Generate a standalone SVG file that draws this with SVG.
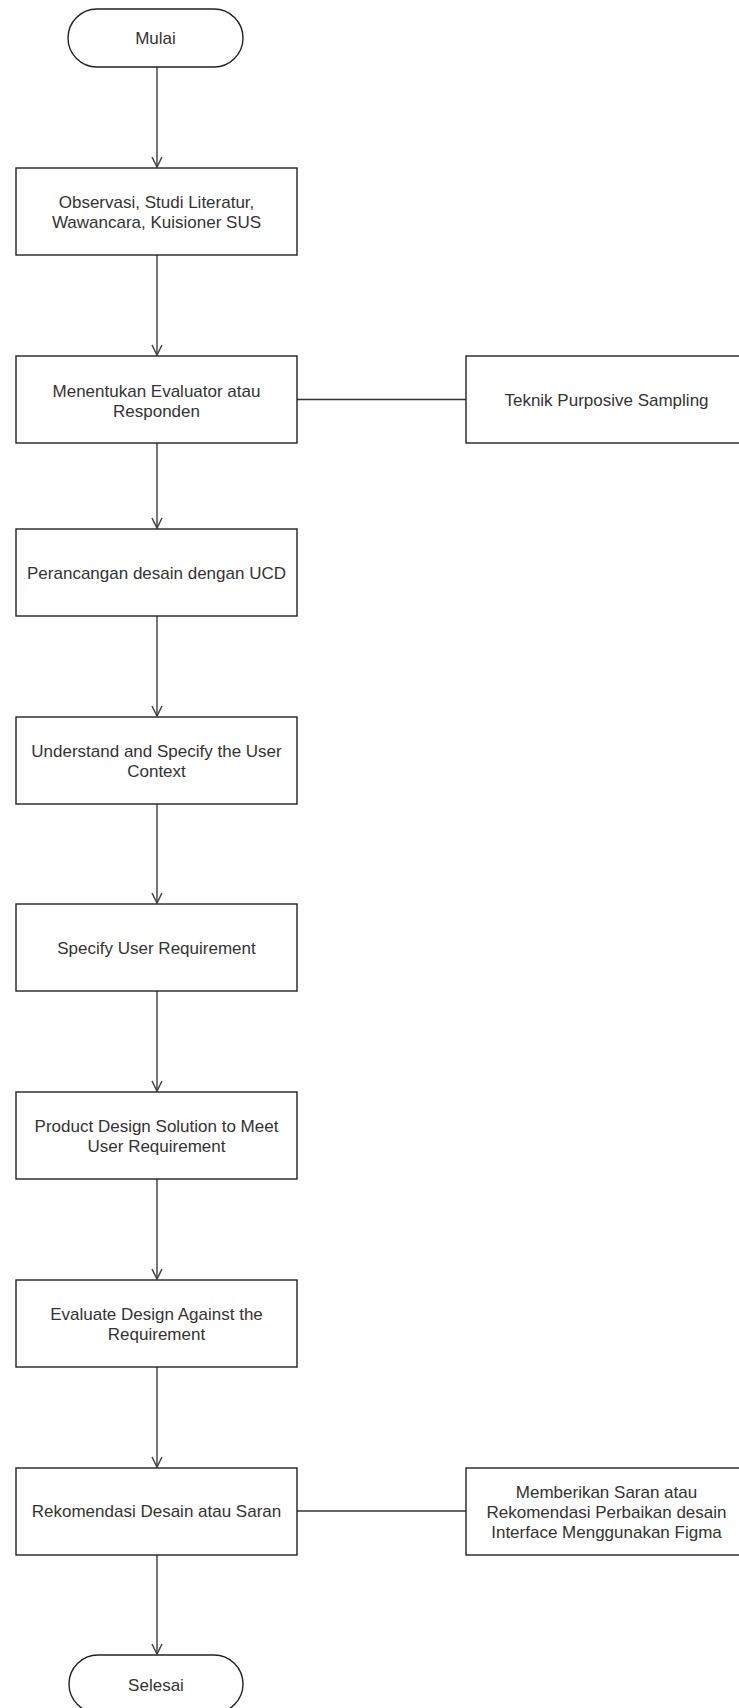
<svg xmlns="http://www.w3.org/2000/svg" width="739" height="1708" viewBox="0 0 739 1708">
<defs>
<style>
.box{fill:#fff;stroke:#222;stroke-width:1.4}
.t{font-family:"Liberation Sans",Arial,Helvetica,sans-serif;font-size:17px;fill:#333;text-anchor:middle}
.arr{fill:none;stroke:#555;stroke-width:1.6}
.link{fill:none;stroke:#333;stroke-width:1.5}
</style>
<marker id="open" markerUnits="userSpaceOnUse" markerWidth="14" markerHeight="14" viewBox="-12 -7 14 14" refX="0" refY="0" orient="auto">
<path d="M-10,-5 L0,0 L-10,5" fill="none" stroke="#444" stroke-width="1.5"/>
</marker>
</defs>
<rect width="739" height="1708" fill="#fff"/>
<g id="connectors">
<line class="arr" x1="157" y1="67" x2="157" y2="167" marker-end="url(#open)"/>
<line class="arr" x1="157" y1="255" x2="157" y2="355" marker-end="url(#open)"/>
<line class="arr" x1="157" y1="443" x2="157" y2="528" marker-end="url(#open)"/>
<line class="arr" x1="157" y1="616" x2="157" y2="716" marker-end="url(#open)"/>
<line class="arr" x1="157" y1="804" x2="157" y2="903" marker-end="url(#open)"/>
<line class="arr" x1="157" y1="991" x2="157" y2="1091" marker-end="url(#open)"/>
<line class="arr" x1="157" y1="1179" x2="157" y2="1279" marker-end="url(#open)"/>
<line class="arr" x1="157" y1="1366" x2="157" y2="1467" marker-end="url(#open)"/>
<line class="arr" x1="157" y1="1554" x2="157" y2="1654" marker-end="url(#open)"/>
<line class="link" x1="297" y1="399.5" x2="466" y2="399.5"/>
<line class="link" x1="297" y1="1511" x2="466" y2="1511"/>
</g>
<g id="mulai">
<rect class="box" x="68" y="9" width="175" height="58" rx="29" ry="29"/>
<text class="t" x="155.5" y="44">Mulai</text>
</g>
<g id="observasi">
<rect class="box" x="16" y="168" width="281" height="87"/>
<text class="t" x="156.5" y="208">Observasi, Studi Literatur,</text>
<text class="t" x="156.5" y="228">Wawancara, Kuisioner SUS</text>
</g>
<g id="menentukan">
<rect class="box" x="16" y="356" width="281" height="87"/>
<text class="t" x="156.5" y="396.5">Menentukan Evaluator atau</text>
<text class="t" x="156.5" y="416.5">Responden</text>
</g>
<g id="teknik">
<rect class="box" x="466" y="356" width="281" height="87"/>
<text class="t" x="606.5" y="405.5">Teknik Purposive Sampling</text>
</g>
<g id="perancangan">
<rect class="box" x="16" y="529" width="281" height="87"/>
<text class="t" x="156.5" y="578.5">Perancangan desain dengan UCD</text>
</g>
<g id="understand">
<rect class="box" x="16" y="717" width="281" height="87"/>
<text class="t" x="156.5" y="757">Understand and Specify the User</text>
<text class="t" x="156.5" y="777">Context</text>
</g>
<g id="specify">
<rect class="box" x="16" y="904" width="281" height="87"/>
<text class="t" x="156.5" y="953.5">Specify User Requirement</text>
</g>
<g id="product">
<rect class="box" x="16" y="1092" width="281" height="87"/>
<text class="t" x="156.5" y="1132">Product Design Solution to Meet</text>
<text class="t" x="156.5" y="1152">User Requirement</text>
</g>
<g id="evaluate">
<rect class="box" x="16" y="1280" width="281" height="87"/>
<text class="t" x="156.5" y="1320">Evaluate Design Against the</text>
<text class="t" x="156.5" y="1340">Requirement</text>
</g>
<g id="rekomendasi">
<rect class="box" x="16" y="1468" width="281" height="87"/>
<text class="t" x="156.5" y="1517">Rekomendasi Desain atau Saran</text>
</g>
<g id="memberikan">
<rect class="box" x="466" y="1468" width="281" height="87"/>
<text class="t" x="606.5" y="1497.5">Memberikan Saran atau</text>
<text class="t" x="606.5" y="1517.5">Rekomendasi Perbaikan desain</text>
<text class="t" x="606.5" y="1537.5">Interface Menggunakan Figma</text>
</g>
<g id="selesai">
<rect class="box" x="69" y="1655" width="174" height="58" rx="29" ry="29"/>
<text class="t" x="156" y="1690.5">Selesai</text>
</g>
</svg>
